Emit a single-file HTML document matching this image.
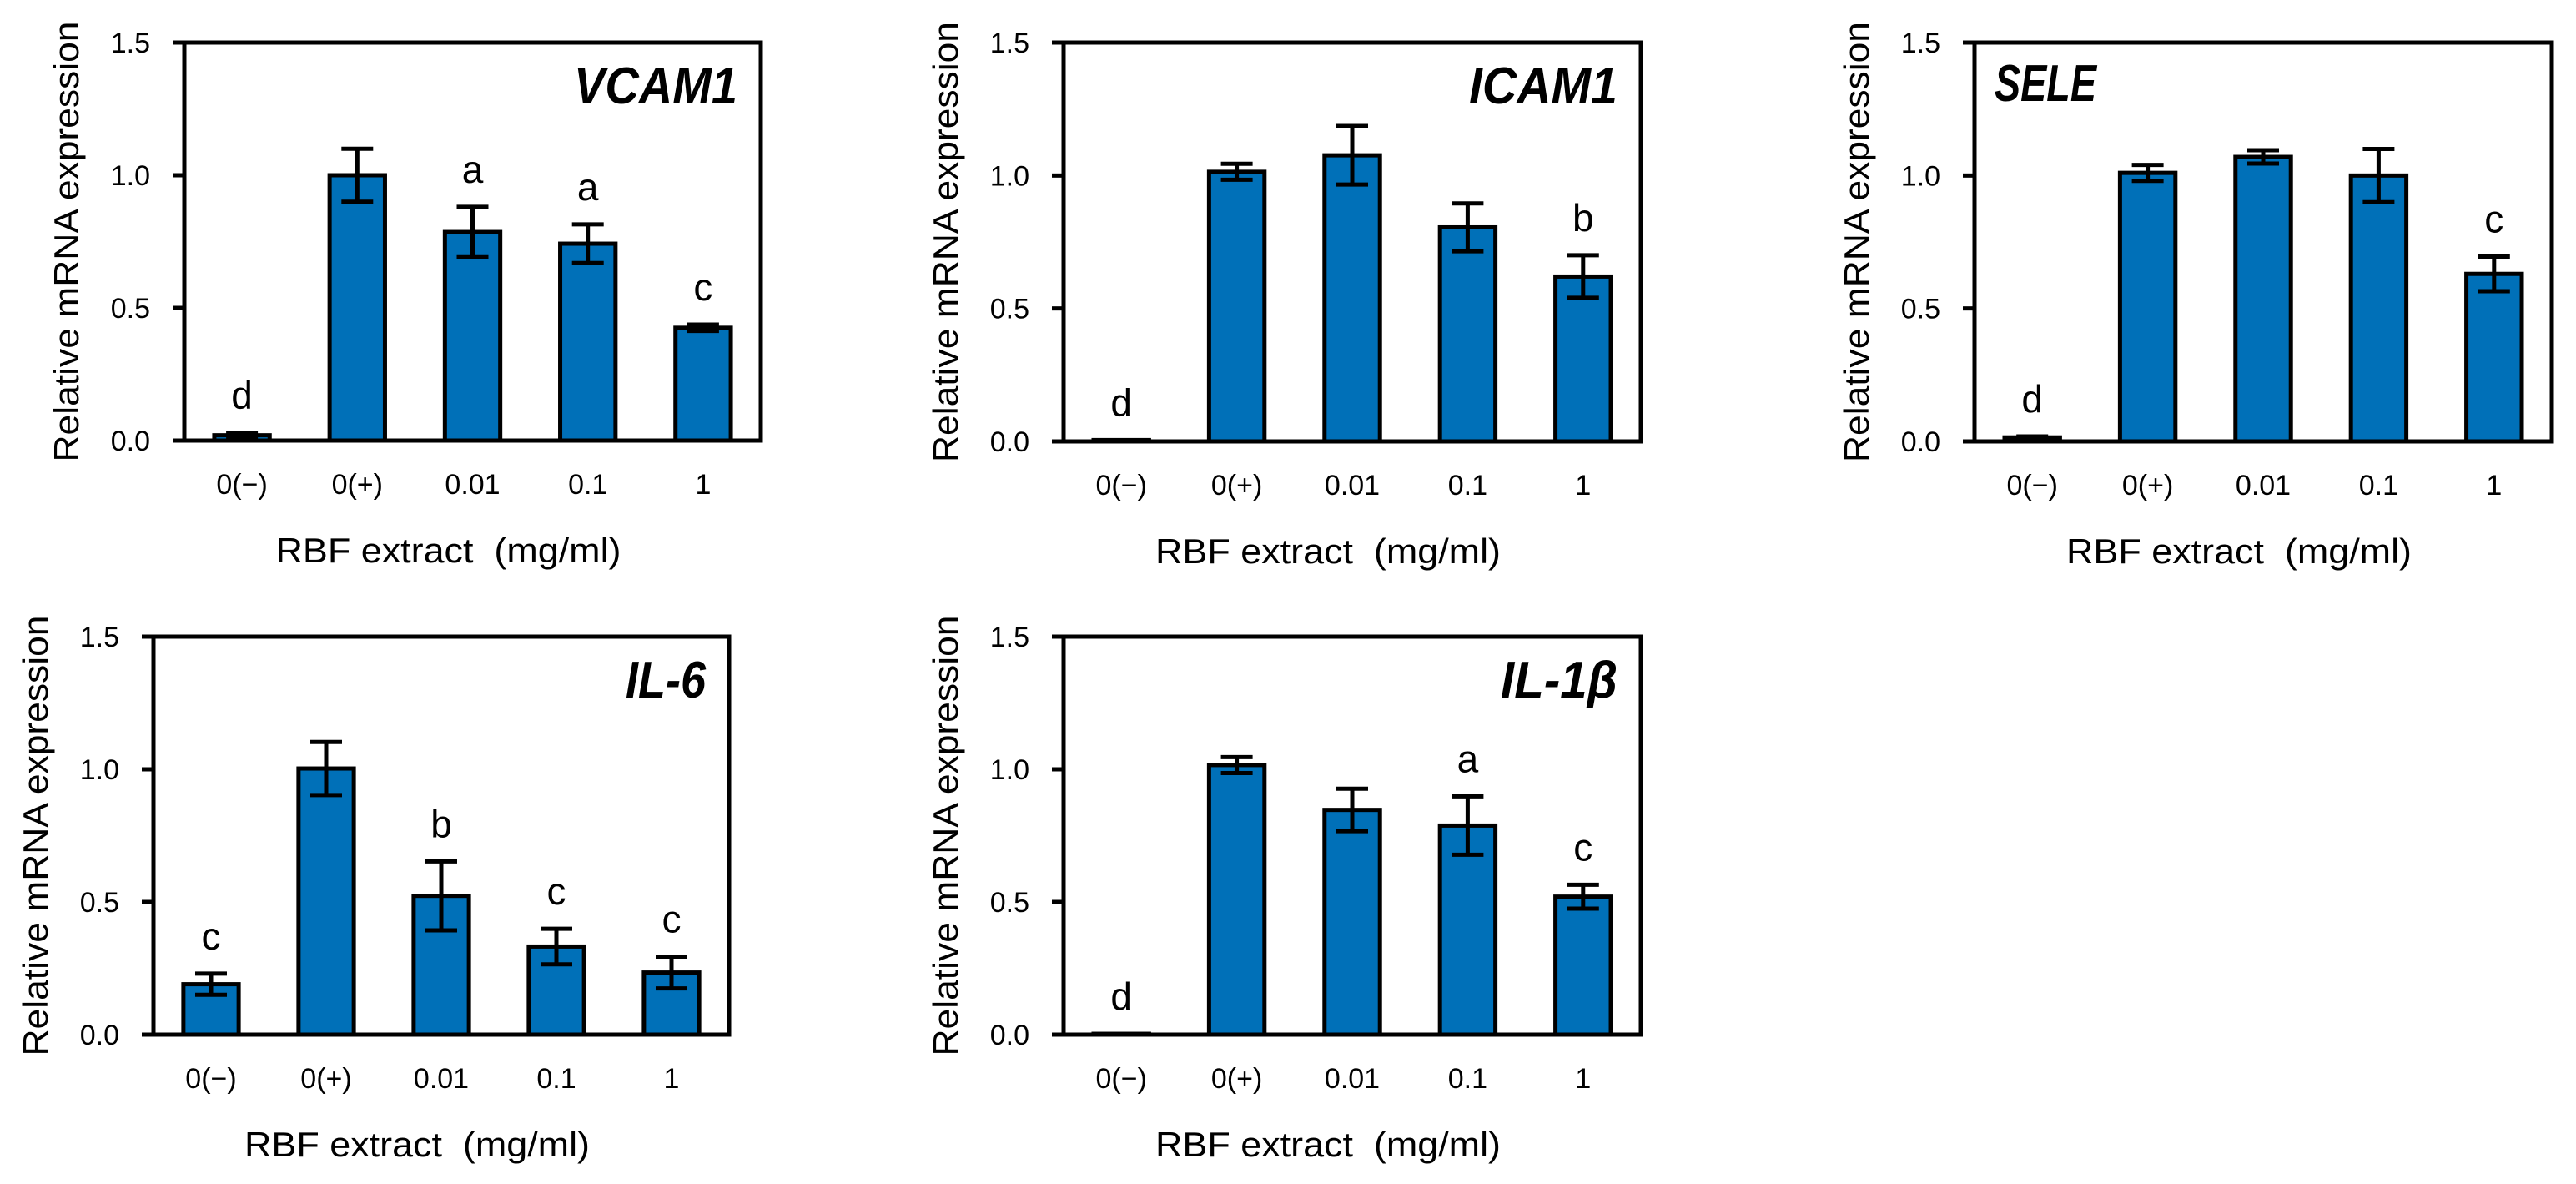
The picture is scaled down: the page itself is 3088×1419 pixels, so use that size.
<!DOCTYPE html>
<html><head><meta charset="utf-8"><style>
html,body{margin:0;padding:0;background:#fff;}
svg{display:block;font-family:"Liberation Sans",Arial,sans-serif;}
</style></head>
<body>
<svg id="fig" width="3088" height="1419" viewBox="0 0 3088 1419" xmlns="http://www.w3.org/2000/svg"></svg>
<script>
const categories = ["0(\u2212)", "0(+)", "0.01", "0.1", "1"];
const yTicks = [0, 0.5, 1.0, 1.5];
const yTickLabels = ["0.0", "0.5", "1.0", "1.5"];

const vcamValues = [0.02, 1.00, 0.786, 0.742, 0.425];
const vcamErrors = [0.01, 0.10, 0.095, 0.073, 0.012];
const vcamLetters = ["d", "", "a", "a", "c"];

const icamValues = [0.005, 1.014, 1.076, 0.805, 0.62];
const icamErrors = [0.0, 0.03, 0.11, 0.09, 0.08];
const icamLetters = ["d", "", "", "", "b"];

const seleValues = [0.015, 1.01, 1.07, 1.00, 0.63];
const seleErrors = [0.004, 0.03, 0.025, 0.10, 0.065];
const seleLetters = ["d", "", "", "", "c"];

const il6Values = [0.19, 1.003, 0.523, 0.332, 0.234];
const il6Errors = [0.04, 0.10, 0.13, 0.067, 0.06];
const il6Letters = ["c", "", "b", "c", "c"];

const il1bValues = [0.003, 1.016, 0.847, 0.788, 0.52];
const il1bErrors = [0.0, 0.03, 0.08, 0.11, 0.045];
const il1bLetters = ["d", "", "", "a", "c"];

const NS = "http://www.w3.org/2000/svg";
const fig = document.getElementById("fig");
function mk(tag, attrs, parent){
  const e = document.createElementNS(NS, tag);
  for (const k in attrs) e.setAttribute(k, attrs[k]);
  (parent||fig).appendChild(e);
  return e;
}

function drawPanel(key, title, titleLen, titleLeft, L, R, T, B, values, errors, letters){
  const g = mk("g", {});
  
  
  const yMax = 1.5;
  const y = v => B - (v / yMax) * (B - T);
  const step = (R - L) / categories.length;
  const x = i => L + step * (i + 0.5);
  const bw = step * 0.48;

  // bars
  values.forEach((v, i) => {
    const r = mk("rect", {x: x(i) - bw/2, y: y(v), width: bw, height: Math.max(B - y(v), 0.5), fill: "#0070b8", stroke: "#000", "stroke-width": 5}, g);
    
    
    const e = errors[i];
    if (e > 0) {
      const eg = mk("g", {stroke: "#000", "stroke-width": 5}, g);
      
      
      mk("line", {x1: x(i), x2: x(i), y1: y(v + e), y2: y(v - e)}, eg);
      mk("line", {x1: x(i) - 19, x2: x(i) + 19, y1: y(v + e), y2: y(v + e)}, eg);
      mk("line", {x1: x(i) - 19, x2: x(i) + 19, y1: y(v - e), y2: y(v - e)}, eg);
    }
    if (letters[i]) {
      const t = mk("text", {x: x(i), y: y(v + e) - 29, "text-anchor": "middle", "font-size": 46, fill: "#000"}, g);
      t.textContent = letters[i];
      
      
    }
    const tl = mk("text", {x: x(i), y: B + 64, "text-anchor": "middle", "font-size": 34, fill: "#000"}, g);
    tl.textContent = categories[i];
    
    
  });

  // frame
  const fr = mk("rect", {x: L, y: T, width: R - L, height: B - T, fill: "none", stroke: "#000", "stroke-width": 5}, g);
  
  

  // y ticks
  yTicks.forEach((v, k) => {
    const tk = mk("line", {x1: L - 14, x2: L, y1: y(v), y2: y(v), stroke: "#000", "stroke-width": 5}, g);
    
    
    const t = mk("text", {x: L - 41, y: y(v) + 12, "text-anchor": "end", "font-size": 34, fill: "#000"}, g);
    t.textContent = yTickLabels[k];
    
    
  });

  // axis titles
  const cy = (T + B) / 2;
  const yt = mk("text", {x: 0, y: 0, transform: "translate(" + (L - 127) + "," + cy + ") rotate(-90)", "text-anchor": "middle", "font-size": 42, textLength: 528, lengthAdjust: "spacingAndGlyphs", fill: "#000"}, g);
  yt.textContent = "Relative mRNA expression";
  
  

  const xt = mk("text", {x: (L + R) / 2 - 29, y: B + 146, "text-anchor": "middle", "font-size": 42, textLength: 414, lengthAdjust: "spacingAndGlyphs", fill: "#000"}, g);
  xt.textContent = "RBF extract\u00a0\u00a0(mg/ml)";
  
  

  // gene title
  const tt = titleLeft
    ? mk("text", {x: L + 24, y: T + 70, "text-anchor": "start", "font-size": 62, "font-weight": "bold", "font-style": "italic", textLength: titleLen, lengthAdjust: "spacingAndGlyphs", fill: "#000"}, g)
    : mk("text", {x: R - 28, y: T + 73, "text-anchor": "end", "font-size": 62, "font-weight": "bold", "font-style": "italic", textLength: titleLen, lengthAdjust: "spacingAndGlyphs", fill: "#000"}, g);
  tt.textContent = title;
  
  
}

drawPanel("vcam1", "VCAM1", 196, false, 221, 912, 51, 528, vcamValues, vcamErrors, vcamLetters);
drawPanel("icam1", "ICAM1", 178, false, 1275, 1967, 51, 529, icamValues, icamErrors, icamLetters);
drawPanel("sele", "SELE", 122, true, 2367, 3059, 51, 529, seleValues, seleErrors, seleLetters);
drawPanel("il6", "IL-6", 96, false, 184, 874, 763, 1240, il6Values, il6Errors, il6Letters);
drawPanel("il1b", "IL-1\u03b2", 140, false, 1275, 1967, 763, 1240, il1bValues, il1bErrors, il1bLetters);
</script>
</body></html>
